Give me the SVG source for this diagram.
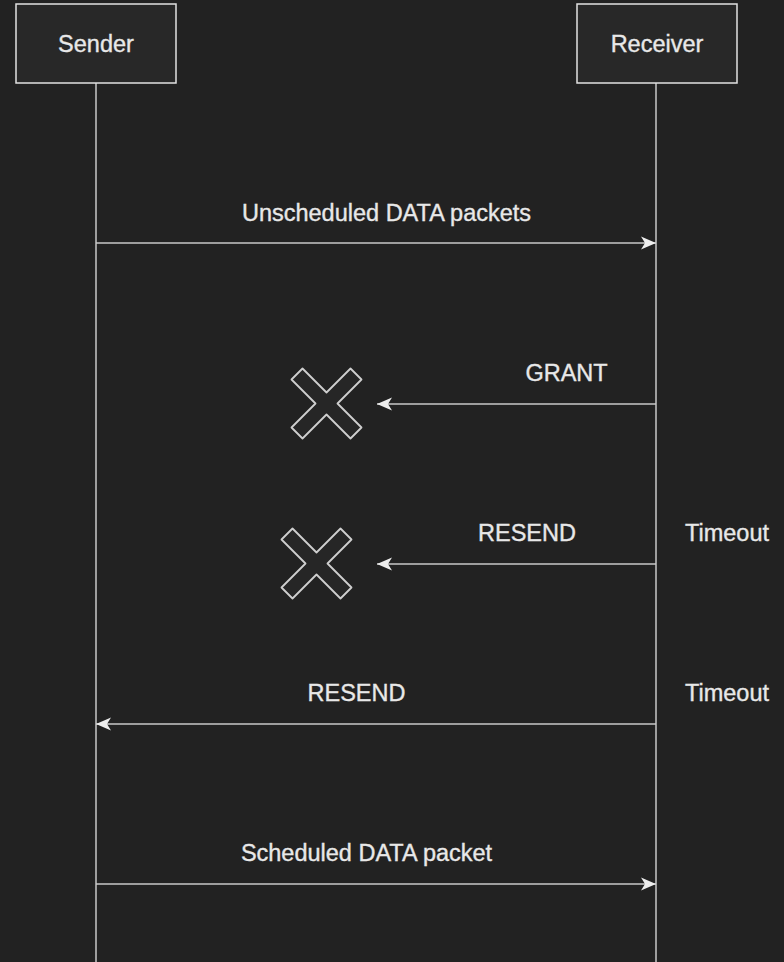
<svg xmlns="http://www.w3.org/2000/svg" width="784" height="962" viewBox="0 0 784 962">
  <defs>
    <marker id="arrow" viewBox="0 0 16 14" refX="15" refY="7" markerWidth="16" markerHeight="14" markerUnits="userSpaceOnUse" orient="auto">
      <path d="M15,7 L0,0.5 L4,7 L0,13.5 Z" fill="#eeeeee"/>
    </marker>
    <polygon id="xmark" points="0,11 11,0 35,24 59,0 70,11 46,35 70,59 59,70 35,46 11,70 0,59 24,35"/>
  </defs>
  <style>
    .bg { fill: #222222; }
    .box { fill: #282828; stroke: #e2e2e2; stroke-width: 1.5; }
    .life { stroke: #c8c8c8; stroke-width: 1.5; fill: none; }
    .msg { stroke: #c8c8c8; stroke-width: 1.5; fill: none; marker-end: url(#arrow); }
    .cross { fill: #262626; stroke: #cfcfcf; stroke-width: 1.8; stroke-linejoin: round; }
    text { font-family: "Liberation Sans", Arial, sans-serif; font-size: 23.5px; fill: #e8e8e8; stroke: #e8e8e8; stroke-width: 0.35; }
    .c { text-anchor: middle; }
  </style>

  <rect class="bg" x="0" y="0" width="784" height="962"/>

  <!-- lifelines -->
  <g id="lifelines">
    <line class="life" x1="96" y1="83" x2="96" y2="962"/>
    <line class="life" x1="656" y1="83" x2="656" y2="962"/>
  </g>

  <!-- participants -->
  <g id="sender">
    <rect class="box" x="16" y="4" width="160" height="79"/>
    <text class="c" x="96" y="52">Sender</text>
  </g>
  <g id="receiver">
    <rect class="box" x="577" y="4" width="160" height="79"/>
    <text class="c" x="657" y="52">Receiver</text>
  </g>

  <!-- lost-message markers -->
  <g id="lost-grant">
    <use href="#xmark" class="cross" x="291.5" y="368.5"/>
  </g>
  <g id="lost-resend">
    <use href="#xmark" class="cross" x="281.5" y="528.5"/>
  </g>

  <!-- messages -->
  <g id="connectors">
    <line class="msg" x1="96" y1="243" x2="656" y2="243"/>
    <line class="msg" x1="656" y1="404" x2="377" y2="404"/>
    <line class="msg" x1="656" y1="564" x2="377" y2="564"/>
    <line class="msg" x1="656" y1="724" x2="96" y2="724"/>
    <line class="msg" x1="96" y1="884" x2="656" y2="884"/>
  </g>

  <!-- labels -->
  <g id="labels">
    <text class="c" x="386.5" y="221">Unscheduled DATA packets</text>
    <text class="c" x="566.5" y="381">GRANT</text>
    <text class="c" x="527" y="541">RESEND</text>
    <text x="685" y="541">Timeout</text>
    <text class="c" x="356.5" y="701">RESEND</text>
    <text x="685" y="701">Timeout</text>
    <text class="c" x="366.5" y="861">Scheduled DATA packet</text>
  </g>
</svg>
